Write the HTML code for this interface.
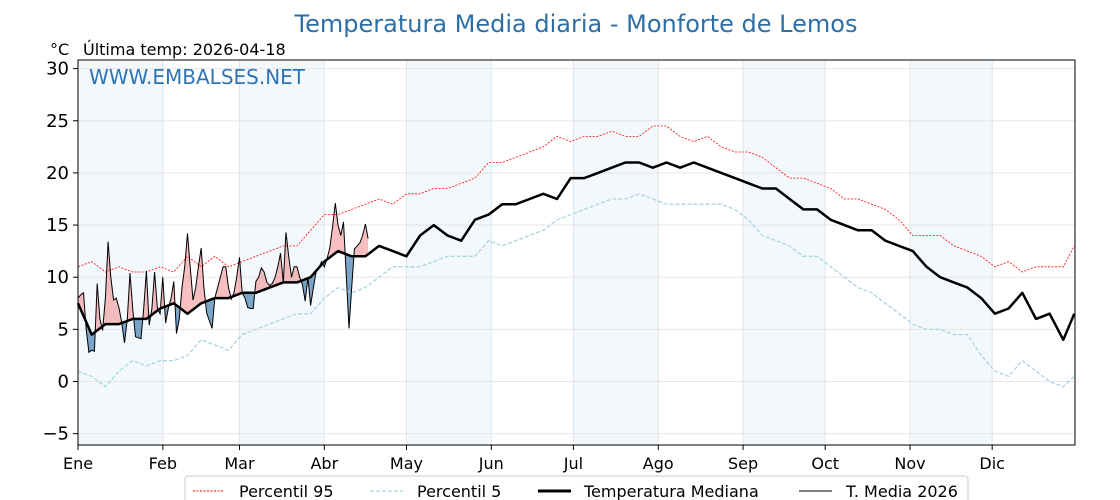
<!DOCTYPE html>
<html><head><meta charset="utf-8">
<style>
body{margin:0;background:#fff;}
svg{display:block;font-family:"DejaVu Sans","Liberation Sans",sans-serif;}
</style></head>
<body>
<svg id="chart" width="1120" height="500" viewBox="0 0 1120 500">
<text x="576" y="32" text-anchor="middle" font-size="24" fill="#2e6fa6">Temperatura Media diaria - Monforte de Lemos</text>
<text x="50" y="55" font-size="16" fill="#000">°C</text>
<text x="83" y="55" font-size="16" fill="#000">Última temp: 2026-04-18</text>
<g id="bands"></g>
<g id="grid"></g>
<g id="series"></g>
<rect x="78" y="60" width="997" height="385" fill="none" stroke="#000" stroke-width="1"/>
<text x="89" y="84" font-size="20" fill="#2e75b6">WWW.EMBALSES.NET</text>
<g id="axes"></g>
<g>
<rect x="185" y="476" width="783" height="34" rx="3" fill="#fff" stroke="#ccc"/>
<line x1="193" y1="491" x2="224" y2="491" stroke="red" stroke-width="1" stroke-dasharray="2,1.5"/>
<text x="239" y="497" font-size="16">Percentil 95</text>
<line x1="370" y1="491" x2="403" y2="491" stroke="#a8d4e0" stroke-width="1.3" stroke-dasharray="4,2"/>
<text x="417" y="497" font-size="16">Percentil 5</text>
<line x1="538" y1="491" x2="571" y2="491" stroke="#000" stroke-width="3"/>
<text x="584" y="497" font-size="16">Temperatura Mediana</text>
<line x1="799" y1="491" x2="832" y2="491" stroke="#000" stroke-width="1"/>
<text x="846" y="497" font-size="16">T. Media 2026</text>
</g>
</svg>
<script>
const monthLabels=["Ene","Feb","Mar","Abr","May","Jun","Jul","Ago","Sep","Oct","Nov","Dic"];
const monthStarts=[0,31,59,90,120,151,181,212,243,273,304,334];
const yTicks=[-5,0,5,10,15,20,25,30];
const stepDays=[0,5,10,15,20,25,30,35,40,45,50,55,60,65,70,75,80,85,90,95,100,105,110,115,120,125,130,135,140,145,150,155,160,165,170,175,180,185,190,195,200,205,210,215,220,225,230,235,240,245,250,255,260,265,270,275,280,285,290,295,300,305,310,315,320,325,330,335,340,345,350,355,360,364];
const medianVals=[7.5,4.5,5.5,5.5,6,6,7,7.5,6.5,7.5,8,8,8.5,8.5,9,9.5,9.5,10,11.5,12.5,12,12,13,12.5,12,14,15,14,13.5,15.5,16,17,17,17.5,18,17.5,19.5,19.5,20,20.5,21,21,20.5,21,20.5,21,20.5,20,19.5,19,18.5,18.5,17.5,16.5,16.5,15.5,15,14.5,14.5,13.5,13,12.5,11,10,9.5,9,8,6.5,7,8.5,6,6.5,4,6.5];
const p95Vals=[11,11.5,10.5,11,10.5,10.5,11,10.5,12,11,12,11,11.5,12,12.5,13,13,14.5,16,16,16.5,17,17.5,17,18,18,18.5,18.5,19,19.5,21,21,21.5,22,22.5,23.5,23,23.5,23.5,24,23.5,23.5,24.5,24.5,23.5,23,23.5,22.5,22,22,21.5,20.5,19.5,19.5,19,18.5,17.5,17.5,17,16.5,15.5,14,14,14,13,12.5,12,11,11.5,10.5,11,11,11,13];
const p5Vals=[1,0.5,-0.5,1,2,1.5,2,2,2.5,4,3.5,3,4.5,5,5.5,6,6.5,6.5,8,9,8.5,9,10,11,11,11,11.5,12,12,12,13.5,13,13.5,14,14.5,15.5,16,16.5,17,17.5,17.5,18,17.5,17,17,17,17,17,16.5,15.5,14,13.5,13,12,12,11,10,9,8.5,7.5,6.5,5.5,5,5,4.5,4.5,2.5,1,0.5,2,1,0,-0.5,0.5];
const t2026=[8,8.3,8.5,5,2.8,3,2.9,9.4,6,4.9,8,13.4,10,7.8,8,7,5.6,3.7,6,10.4,7,4.3,4.2,4.1,7,10.6,5.4,7,10.5,7,6.5,10,5.6,7,8,9.6,4.6,6,9,11,14.2,11,7.8,9,11,12.8,9,6.6,5.8,5.1,8,9,10,11,11,9,7.9,8.5,10,11.9,8.5,8,7.1,7,7,9.6,10,10.9,10.5,9.5,9.2,9.4,10,11,12.3,9.5,14.3,12,10,11,11,10,9.3,7.7,10,7.3,9,10.5,10.9,11.5,11,11.8,12.8,14.8,17.1,15,14,15.3,10.3,5.1,9,12.7,13,13.3,14,15.1,13.7];

const NS="http://www.w3.org/2000/svg";
const X0=78,PX=2.737,Y0=381.5,PY=10.43;
const xs=d=>X0+d*PX, ys=v=>Y0-v*PY;
function mk(tag,attrs,parent){const e=document.createElementNS(NS,tag);for(const k in attrs)e.setAttribute(k,attrs[k]);parent.appendChild(e);return e;}
const bands=document.getElementById('bands'),grid=document.getElementById('grid'),ser=document.getElementById('series'),axes=document.getElementById('axes');
monthStarts.forEach((m,i)=>{
  if(i%2===0){const end=i+1<12?monthStarts[i+1]:365;
    const r=mk('rect',{x:xs(m),y:60,width:xs(end)-xs(m),height:385,fill:'#f3f8fc'},bands);
    
    }
  const gl=mk('line',{x1:xs(m),x2:xs(m),y1:60,y2:445,stroke:'#dde6ee','stroke-width':1},grid);
  
  
  mk('line',{x1:xs(m),x2:xs(m),y1:445,y2:450,stroke:'#000'},axes);
  const t=mk('text',{x:xs(m),y:469,'text-anchor':'middle','font-size':16},axes);
  t.textContent=monthLabels[i];
  
  
});
yTicks.forEach(v=>{
  const gl=mk('line',{x1:78,x2:1075,y1:ys(v),y2:ys(v),stroke:'#e6e6e6','stroke-width':1},grid);
  
  
  mk('line',{x1:73,x2:78,y1:ys(v),y2:ys(v),stroke:'#000'},axes);
  const t=mk('text',{x:69,y:ys(v)+6,'text-anchor':'end','font-size':18},axes);
  t.textContent=v<0?'\u2212'+Math.abs(v):String(v);
  
  
});
function pts(days,vals){return days.map((d,i)=>xs(d).toFixed(1)+','+ys(vals[i]).toFixed(1)).join(' ');}
function interp(days,vals,d){for(let i=1;i<days.length;i++){if(d<=days[i]){const f=(d-days[i-1])/(days[i]-days[i-1]);return vals[i-1]+f*(vals[i]-vals[i-1]);}}return vals[vals.length-1];}
const tDays=t2026.map((_,i)=>i);
const last=t2026.length-1;
const medT=tDays.map(d=>interp(stepDays,medianVals,d));
const medPts=pts(tDays,medT);
const defs=mk('defs',{},ser);
const cA=mk('clipPath',{id:'above'},defs);
mk('polygon',{points:medPts+` ${xs(last)},60 ${xs(0)},60`},cA);
const cB=mk('clipPath',{id:'below'},defs);
mk('polygon',{points:medPts+` ${xs(last)},445 ${xs(0)},445`},cB);
const revMed=tDays.slice().reverse().map(d=>xs(d).toFixed(1)+','+ys(medT[d]).toFixed(1)).join(' ');
const band=pts(tDays,t2026)+' '+revMed;
const fa=mk('polygon',{points:band,fill:'#f08080','fill-opacity':0.5,'clip-path':'url(#above)'},ser);


const fb=mk('polygon',{points:band,fill:'#4682b4','fill-opacity':0.7,'clip-path':'url(#below)'},ser);


const l95=mk('polyline',{points:pts(stepDays,p95Vals),fill:'none',stroke:'red','stroke-width':0.8,'stroke-dasharray':'2,1.5'},ser);


const l5=mk('polyline',{points:pts(stepDays,p5Vals),fill:'none',stroke:'#a8d4e0','stroke-width':1.3,'stroke-dasharray':'4,2'},ser);


const lm=mk('polyline',{points:pts(stepDays,medianVals),fill:'none',stroke:'#000','stroke-width':2.5,'stroke-linejoin':'round'},ser);


const lt=mk('polyline',{points:pts(tDays,t2026),fill:'none',stroke:'#000','stroke-width':1},ser);


</script>
</body></html>
